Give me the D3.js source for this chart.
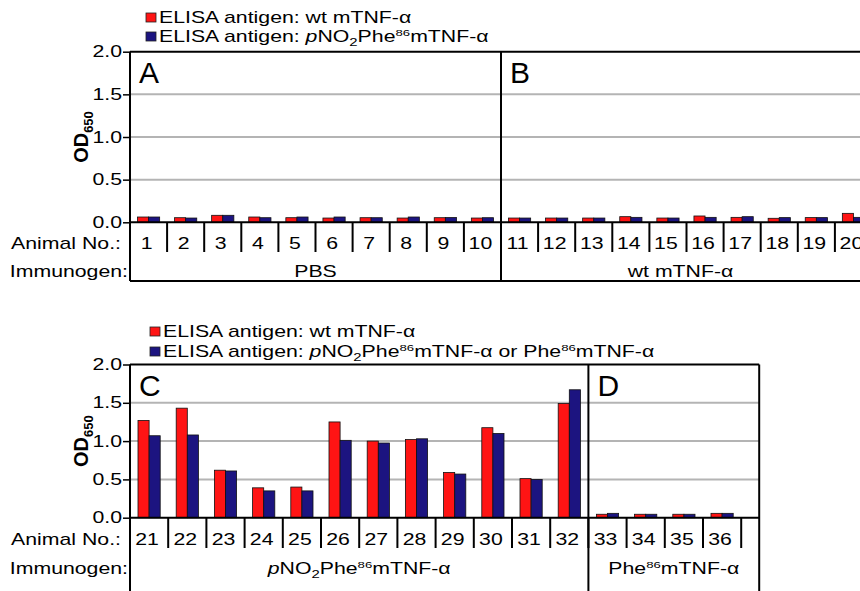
<!DOCTYPE html>
<html>
<head>
<meta charset="utf-8">
<script src="https://cdn.jsdelivr.net/npm/d3@7"></script>
<style>
  body { margin: 0; background: #fff; }
  text { font-family: "Liberation Sans", Arial, sans-serif; fill: #000; }
</style>
</head>
<body>
<svg id="chart"></svg>
<script>
var W = 860, H = 591;

// ---- data ----
var series = ["wt", "mut"];
var seriesColors = ["#ff1414", "#1c1480"];
var yTicks = [0, 0.5, 1.0, 1.5, 2.0];

var topAnimals = ["1","2","3","4","5","6","7","8","9","10","11","12","13","14","15","16","17","18","19","20"];
var topWt  = [0.062,0.054,0.082,0.062,0.054,0.050,0.054,0.050,0.054,0.050,0.050,0.050,0.050,0.066,0.050,0.074,0.058,0.047,0.055,0.105];
var topMut = [0.062,0.050,0.082,0.054,0.062,0.062,0.054,0.062,0.056,0.054,0.050,0.050,0.050,0.058,0.050,0.058,0.066,0.055,0.055,0.058];
var topGroupLabels = [[["PBS"]], [["wt mTNF-α"]]];
var topGroupSizes = [10, 10];
var topLetters = ["A", "B"];
var topLegend = [
  [["ELISA antigen: wt mTNF-α"]],
  [["ELISA antigen: "], ["p","i"], ["NO"], ["2","sub"], ["Phe"], ["86","sup"], ["mTNF-α"]]
];

var botAnimals = ["21","22","23","24","25","26","27","28","29","30","31","32","33","34","35","36"];
var botWt  = [1.27,1.43,0.62,0.39,0.40,1.25,1.00,1.02,0.59,1.175,0.51,1.49,0.045,0.045,0.045,0.057];
var botMut = [1.07,1.08,0.61,0.35,0.35,1.01,0.975,1.03,0.57,1.10,0.50,1.67,0.057,0.045,0.045,0.057];
var botGroupLabels = [
  [["p","i"], ["NO"], ["2","sub"], ["Phe"], ["86","sup"], ["mTNF-α"]],
  [["Phe"], ["86","sup"], ["mTNF-α"]]
];
var botGroupSizes = [12, 4];
var botLetters = ["C", "D"];
var botLegend = [
  [["ELISA antigen: wt mTNF-α"]],
  [["ELISA antigen: "], ["p","i"], ["NO"], ["2","sub"], ["Phe"], ["86","sup"], ["mTNF-α or Phe"], ["86","sup"], ["mTNF-α"]]
];

var SX = 1.33; // the figure is stretched horizontally

var svg = d3.select("#chart").attr("width", W).attr("height", H);

// rich text: parts are [str, style]
function rich(g, parts, size) {
  var t = g.append("text").attr("font-size", size);
  var shift = 0;
  parts.forEach(function(p) {
    var s = t.append("tspan").text(p[0]);
    var want = p[1] == "sub" ? 4 : p[1] == "sup" ? -6 : 0;
    s.attr("dy", want - shift);
    shift = want;
    if (p[1] == "sub") s.attr("font-size", size * 0.7);
    if (p[1] == "sup") s.attr("font-size", size * 0.62);
    if (p[1] == "i") s.attr("font-style", "italic");
  });
  return t;
}
function stext(parent, x, y, parts, anchor, size) {
  var g = parent.append("g").attr("transform", `translate(${x},${y}) scale(${SX},1)`);
  rich(g, parts, size || 16).attr("text-anchor", anchor || "start");
  return g;
}

function drawPanel(p) {
  var g = svg.append("g");
  var x = d3.scaleBand().domain(p.animals).range([p.x0, p.x0 + p.animals.length * p.step]);
  var xs = d3.scaleBand().domain(series).range([0, x.bandwidth()]).paddingOuter(p.barPad);
  var y = d3.scaleLinear().domain([0, 2]).range([p.yBase, p.yTop]);
  var right = x.range()[1] + p.extra;
  var data = p.animals.map(function(a, i) { return {a: a, v: [p.wt[i], p.mut[i]]}; });

  // gridlines
  g.selectAll(".grid").data(yTicks.filter(function(d){ return d > 0 && d < 2; }))
    .enter().append("line")
    .attr("x1", p.x0).attr("x2", right)
    .attr("y1", function(d){ return y(d); }).attr("y2", function(d){ return y(d); })
    .attr("stroke", "#b4b4b4").attr("stroke-width", 2);

  // bars
  var grp = g.selectAll(".slot").data(data).enter().append("g")
    .attr("transform", function(d){ return `translate(${x(d.a)},0)`; });
  grp.selectAll("rect").data(function(d){ return d.v.map(function(v, k){ return {s: series[k], v: v, c: seriesColors[k]}; }); })
    .enter().append("rect")
    .attr("x", function(d){ return xs(d.s); })
    .attr("width", xs.bandwidth())
    .attr("y", function(d){ return y(d.v); })
    .attr("height", function(d){ return y(0) - y(d.v); })
    .attr("fill", function(d){ return d.c; })
    .attr("stroke", "#111").attr("stroke-width", 0.8);

  // y axis ticks + labels
  var ax = g.append("g").attr("transform", `translate(${p.x0},0)`)
    .call(d3.axisLeft(y).tickValues(yTicks).tickFormat(d3.format(".1f")).tickSize(7));
  ax.select(".domain").remove();
  ax.selectAll("line").attr("stroke", "#000").attr("stroke-width", 1.5);
  ax.selectAll("text").attr("font-size", 16).attr("font-family", "Liberation Sans, Arial, sans-serif")
    .attr("transform", `scale(${SX},1)`).attr("x", -8 / SX);

  // frame lines
  var lw = 2;
  g.append("line").attr("x1", p.x0).attr("x2", right).attr("y1", y(2)).attr("y2", y(2)).attr("stroke", "#000").attr("stroke-width", lw);
  g.append("line").attr("x1", p.x0).attr("x2", right).attr("y1", y(0)).attr("y2", y(0)).attr("stroke", "#000").attr("stroke-width", lw);
  g.append("line").attr("x1", p.x0).attr("x2", right).attr("y1", p.boxBottom).attr("y2", p.boxBottom).attr("stroke", "#000").attr("stroke-width", lw);
  g.append("line").attr("x1", p.x0).attr("x2", p.x0).attr("y1", y(2)).attr("y2", p.boxBottom).attr("stroke", "#000").attr("stroke-width", lw);
  g.append("line").attr("x1", right).attr("x2", right).attr("y1", y(2)).attr("y2", p.boxBottom).attr("stroke", "#000").attr("stroke-width", lw);

  // slot ticks below baseline
  g.selectAll(".stick").data(p.animals).enter().append("line")
    .attr("x1", function(d){ return x(d) + x.bandwidth(); }).attr("x2", function(d){ return x(d) + x.bandwidth(); })
    .attr("y1", y(0)).attr("y2", p.tickBottom)
    .attr("stroke", "#000").attr("stroke-width", lw);

  // animal numbers
  p.animals.forEach(function(a) {
    stext(g, x(a) + x.bandwidth() / 2 - 2, p.numBase, [[a]], "middle");
  });
  stext(g, 121, p.numBase, [["Animal No.:"]], "end");
  stext(g, 128, p.immBase, [["Immunogen:"]], "end");

  // groups: separators, letters, immunogen labels
  var start = 0;
  p.sizes.forEach(function(n, i) {
    var gx0 = x(p.animals[start]);
    var gx1 = i == p.sizes.length - 1 ? right : x(p.animals[start + n - 1]) + x.bandwidth();
    if (i < p.sizes.length - 1) {
      g.append("line").attr("x1", gx1).attr("x2", gx1).attr("y1", y(2)).attr("y2", p.boxBottom)
        .attr("stroke", "#000").attr("stroke-width", lw);
    }
    g.append("text").attr("x", gx0 + 9).attr("y", y(2) + 31).attr("font-size", 30).text(p.letters[i]);
    stext(g, (gx0 + Math.min(gx1, W)) / 2, p.immBase, p.groupLabels[i], "middle");
    start += n;
  });

  // y title OD650
  var tt = g.append("text").attr("transform", `translate(${p.titleX},${(y(0) + y(2)) / 2}) rotate(-90)`)
    .attr("text-anchor", "middle").attr("font-weight", "bold").attr("font-size", 20);
  tt.append("tspan").text("OD");
  tt.append("tspan").text("650").attr("font-size", 13).attr("dy", 5);

  // legend
  p.legend.forEach(function(parts, i) {
    var ly = p.legendY + i * p.legendGap;
    g.append("rect").attr("x", p.legendX).attr("y", ly - 10).attr("width", 10).attr("height", 9)
      .attr("fill", seriesColors[i]).attr("stroke", "#222").attr("stroke-width", 0.8);
    stext(g, p.legendX + 13, ly, parts, "start");
  });
}

drawPanel({
  animals: topAnimals, wt: topWt, mut: topMut, sizes: topGroupSizes, groupLabels: topGroupLabels,
  letters: topLetters, legend: topLegend,
  x0: 130, step: 37.1, extra: 0, barPad: 0.67,
  yBase: 222.3, yTop: 51.7, tickBottom: 252, numBase: 249, immBase: 277, boxBottom: 281,
  titleX: 88, legendX: 146, legendY: 23, legendGap: 19
});
drawPanel({
  animals: botAnimals, wt: botWt, mut: botMut, sizes: botGroupSizes, groupLabels: botGroupLabels,
  letters: botLetters, legend: botLegend,
  x0: 130, step: 38.2, extra: 18, barPad: 0.72,
  yBase: 517.7, yTop: 364.5, tickBottom: 548, numBase: 545, immBase: 574, boxBottom: 600,
  titleX: 88, legendX: 150, legendY: 337, legendGap: 20
});
</script>
</body>
</html>
